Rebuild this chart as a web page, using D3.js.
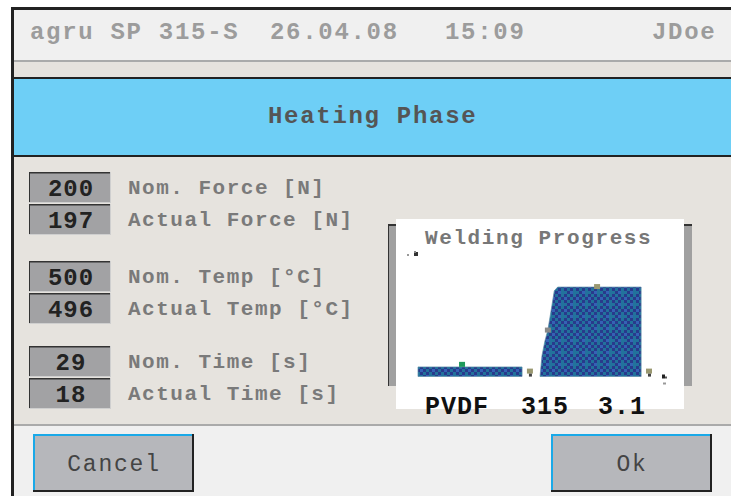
<!DOCTYPE html>
<html>
<head>
<meta charset="utf-8">
<script src="https://cdn.jsdelivr.net/npm/d3@7"></script>
<style>
  body { margin: 0; background: #fff; }
  svg text { font-family: "Liberation Mono", "DejaVu Sans Mono", monospace; }
</style>
</head>
<body>
<script>
// header line of the machine display
var headerItems = ["agru SP 315-S", "26.04.08", "15:09", "JDoe"];
var headerX = [30, 270, 445, 652];
var phaseTitle = "Heating Phase";

// parameter boxes, nominal / actual pairs
var paramLabels = ["Nom. Force [N]", "Actual Force [N]", "Nom. Temp [°C]", "Actual Temp [°C]", "Nom. Time [s]", "Actual Time [s]"];
var paramValues = [200, 197, 500, 496, 29, 18];

// welding progress diagram (time in % of cycle, force in % of max)
var heatTime = [0, 42.3];
var heatForce = [7.8, 7.8];
var joinTime = [49.6, 50.4, 51.6, 52.8, 54.2, 55.4, 56.8, 90.7];
var joinForce = [0, 17, 29, 38, 55, 70, 73, 73];
var markerTime = [17.9, 45.5, 52.8, 72.8, 93.9];
var markerForce = [9.5, 4, 37.5, 73, 4];
var markerColor = ["#1f9a5c", "#9a9870", "#8a8a8a", "#9a9870", "#9a9870"];
var footerItems = ["PVDF", "315", "3.1"];
var footerX = [425, 521, 598];

var svg = d3.select("body").append("svg")
    .attr("width", 731).attr("height", 496);

// window frame
svg.append("rect").attr("x", 11).attr("y", 7).attr("width", 730).attr("height", 500).attr("fill", "#222");
// header
svg.append("rect").attr("x", 14).attr("y", 10).attr("width", 720).attr("height", 50).attr("fill", "#f0f0f0");
svg.append("rect").attr("x", 14).attr("y", 60).attr("width", 720).attr("height", 2).attr("fill", "#aaa");
svg.append("rect").attr("x", 14).attr("y", 62).attr("width", 720).attr("height", 15).attr("fill", "#e6e2dd");
// title bar
svg.append("rect").attr("x", 14).attr("y", 79).attr("width", 720).attr("height", 76).attr("fill", "#6ecff6");
// body
svg.append("rect").attr("x", 14).attr("y", 157).attr("width", 720).attr("height", 267).attr("fill", "#e6e3de");
svg.append("rect").attr("x", 14).attr("y", 424).attr("width", 720).attr("height", 2).attr("fill", "#aaa");
svg.append("rect").attr("x", 14).attr("y", 426).attr("width", 720).attr("height", 80).attr("fill", "#f0f0f0");

svg.selectAll(".hdr").data(headerItems).enter().append("text")
    .attr("class", "hdr")
    .attr("x", function(d, i) { return headerX[i]; })
    .attr("y", 39)
    .attr("fill", "#9c9c9c")
    .attr("font-size", 24).attr("font-weight", "bold")
    .attr("letter-spacing", 1.7)
    .text(function(d) { return d; });

svg.append("text").attr("x", 268).attr("y", 123)
    .attr("fill", "#555").attr("font-size", 24).attr("font-weight", "bold")
    .attr("letter-spacing", 1.7)
    .text(phaseTitle);

// parameter rows
var boxY = [172, 204, 261, 293, 346, 378];
var rows = svg.selectAll(".row").data(paramValues).enter().append("g")
    .attr("class", "row")
    .attr("transform", function(d, i) { return "translate(0," + boxY[i] + ")"; });

rows.append("rect").attr("x", 29).attr("y", 0).attr("width", 82).attr("height", 31).attr("fill", "#cfcfcf");
rows.append("rect").attr("x", 29).attr("y", 0).attr("width", 81).attr("height", 30).attr("fill", "#333");
rows.append("rect").attr("x", 30).attr("y", 1.5).attr("width", 80).attr("height", 28.5).attr("fill", "#a2a2a4");
rows.append("text")
    .attr("x", 71).attr("y", 23.5)
    .attr("text-anchor", "middle")
    .attr("fill", "#222").attr("font-size", 24).attr("font-weight", "bold")
    .attr("letter-spacing", 1)
    .text(function(d) { return d; });
rows.append("text")
    .attr("x", 128).attr("y", 22)
    .attr("fill", "#7a7a7a").attr("font-size", 21).attr("font-weight", "bold")
    .attr("letter-spacing", 1.5)
    .text(function(d, i) { return paramLabels[i]; });

// chart frame and white panel
svg.append("rect").attr("x", 388).attr("y", 224).attr("width", 304).attr("height", 162).attr("fill", "#333");
svg.append("rect").attr("x", 389).attr("y", 226).attr("width", 303).attr("height", 160).attr("fill", "#a0a0a0");
svg.append("rect").attr("x", 396).attr("y", 219).attr("width", 288).attr("height", 190).attr("fill", "#fff");

svg.append("text").attr("x", 425).attr("y", 244)
    .attr("fill", "#777").attr("font-size", 21).attr("font-weight", "bold")
    .attr("letter-spacing", 1.6)
    .text("Welding Progress");

// dithered fill like the display's palette
var defs = svg.append("defs");
var pat = defs.append("pattern").attr("id", "dither")
    .attr("patternUnits", "userSpaceOnUse")
    .attr("width", 12).attr("height", 12);
var cells = [
    ["#283a8c", "#22729c", "#283a8c", "#22729c"],
    ["#22729c", "#283a8c", "#3463b4", "#22729c"],
    ["#283a8c", "#22729c", "#283a8c", "#22729c"],
    ["#3463b4", "#283a8c", "#22729c", "#283a8c"]
];
cells.forEach(function(row, r) {
    row.forEach(function(c, k) {
        pat.append("rect").attr("x", k * 3).attr("y", r * 3).attr("width", 3).attr("height", 3).attr("fill", c);
    });
});

var x = d3.scaleLinear().domain([0, 100]).range([418, 664]);
var y = d3.scaleLinear().domain([0, 100]).range([376.5, 254]);

var area = d3.area()
    .x(function(d) { return x(d[0]); })
    .y0(y(0))
    .y1(function(d) { return y(d[1]); });

var heatData = d3.zip(heatTime, heatForce);
var joinData = d3.zip(joinTime, joinForce);

[heatData, joinData].forEach(function(data) {
    svg.append("path")
        .datum(data)
        .attr("d", area)
        .attr("fill", "url(#dither)")
        .attr("stroke", "#5a8aa6")
        .attr("stroke-width", 1)
        .attr("stroke-opacity", 0.7);
});

// phase markers
svg.selectAll(".mk").data(markerTime).enter().append("rect")
    .attr("class", "mk")
    .attr("x", function(d) { return x(d) - 3; })
    .attr("y", function(d, i) { return y(markerForce[i]) - 3; })
    .attr("width", 6).attr("height", 5)
    .attr("fill", function(d, i) { return markerColor[i]; });
svg.selectAll(".mkb").data(markerTime.filter(function(d, i) { return i === 1 || i === 4; })).enter().append("rect")
    .attr("class", "mkb")
    .attr("x", function(d) { return x(d) - 1; })
    .attr("y", y(4) + 2)
    .attr("width", 3).attr("height", 3)
    .attr("fill", "#444");

// axis tips
svg.append("rect").attr("x", x(0) - 4).attr("y", y(100) - 2).attr("width", 4).attr("height", 4).attr("fill", "#333");
svg.append("rect").attr("x", x(0) - 4).attr("y", y(100) - 3).attr("width", 2).attr("height", 2).attr("fill", "#888");
svg.append("rect").attr("x", x(0) - 11).attr("y", y(100)).attr("width", 2).attr("height", 2).attr("fill", "#999");
svg.append("rect").attr("x", x(100) - 2).attr("y", y(0) - 2).attr("width", 3).attr("height", 4).attr("fill", "#222");
svg.append("rect").attr("x", x(100) + 1).attr("y", y(0)).attr("width", 2).attr("height", 2).attr("fill", "#555");
svg.append("rect").attr("x", x(100) - 1).attr("y", y(0) + 6).attr("width", 3).attr("height", 2).attr("fill", "#999");

svg.selectAll(".ftr").data(footerItems).enter().append("text")
    .attr("class", "ftr")
    .attr("x", function(d, i) { return footerX[i]; })
    .attr("y", 414)
    .attr("fill", "#111").attr("font-size", 25).attr("font-weight", "bold")
    .attr("letter-spacing", 1)
    .text(function(d) { return d; });

// buttons
var buttons = [{ label: "Cancel", x: 33 }, { label: "Ok", x: 551 }];
var btn = svg.selectAll(".btn").data(buttons).enter().append("g")
    .attr("class", "btn")
    .attr("transform", function(d) { return "translate(" + d.x + ",434)"; });
btn.append("rect").attr("width", 161).attr("height", 58).attr("fill", "#222");
btn.append("rect").attr("width", 159).attr("height", 56).attr("fill", "#1aa9e8");
btn.append("rect").attr("x", 2).attr("y", 2).attr("width", 157).attr("height", 54).attr("fill", "#b6b7bb");
btn.append("text")
    .attr("x", 81).attr("y", 37)
    .attr("text-anchor", "middle")
    .attr("fill", "#444").attr("font-size", 23)
    .attr("letter-spacing", 1.8)
    .text(function(d) { return d.label; });
</script>
</body>
</html>
